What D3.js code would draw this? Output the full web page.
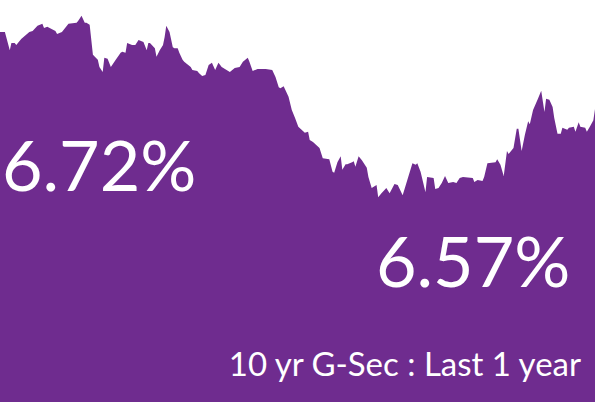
<!DOCTYPE html>
<html><head><meta charset="utf-8">
<script src="https://cdn.jsdelivr.net/npm/d3@7"></script>
<style>html,body{margin:0;padding:0;background:#fff;}svg{display:block;}</style>
</head><body>
<svg id="chart" width="601" height="410"></svg>
<script>
// Day offsets within the last year (0 = one year ago)
const days = [0,3,6,7,9,10,13,18,20,23,26,27,29,34,35,38,42,47,48,50,52,53,55,57,60,61,63,64,66,68,71,74,75,77,78,81,83,85,88,90,91,92,95,96,98,100,101,102,104,106,107,109,110,112,113,117,118,121,122,124,126,128,130,132,134,136,139,141,144,147,149,152,153,155,158,163,167,169,171,172,174,177,179,181,183,185,187,189,190,192,194,196,198,202,204,205,207,209,210,212,213,216,217,218,220,222,225,226,228,229,231,232,234,237,239,242,244,247,248,253,255,256,258,261,262,266,267,269,271,273,275,278,280,282,284,290,291,293,296,297,299,304,305,307,309,311,312,315,317,318,320,322,324,325,327,330,332,334,335,337,339,340,342,344,345,348,349,352,353,355,356,359,360,362,364,365];
// 10 yr G-Sec yield (%)
const yields = [6.720,6.720,6.684,6.698,6.698,6.694,6.706,6.720,6.722,6.732,6.736,6.728,6.730,6.722,6.716,6.720,6.736,6.738,6.742,6.752,6.738,6.738,6.734,6.675,6.665,6.651,6.641,6.669,6.667,6.651,6.665,6.679,6.681,6.679,6.698,6.694,6.694,6.704,6.700,6.684,6.698,6.698,6.688,6.671,6.684,6.694,6.710,6.732,6.720,6.690,6.688,6.688,6.679,6.665,6.661,6.651,6.645,6.643,6.639,6.633,6.635,6.655,6.659,6.645,6.659,6.651,6.645,6.641,6.649,6.651,6.661,6.669,6.661,6.643,6.647,6.647,6.645,6.631,6.611,6.609,6.613,6.592,6.566,6.550,6.533,6.527,6.521,6.523,6.507,6.503,6.497,6.491,6.471,6.469,6.444,6.442,6.463,6.475,6.448,6.459,6.459,6.463,6.465,6.454,6.475,6.467,6.452,6.434,6.412,6.414,6.418,6.394,6.402,6.412,6.402,6.420,6.418,6.398,6.408,6.461,6.458,6.461,6.444,6.404,6.434,6.432,6.410,6.412,6.422,6.436,6.422,6.424,6.422,6.432,6.434,6.432,6.424,6.428,6.426,6.434,6.461,6.463,6.469,6.458,6.436,6.485,6.479,6.491,6.529,6.529,6.485,6.517,6.544,6.538,6.566,6.588,6.604,6.562,6.588,6.586,6.572,6.550,6.519,6.519,6.531,6.527,6.531,6.533,6.523,6.542,6.533,6.531,6.523,6.534,6.546,6.568];
const firstLabel = "6.72%";
const lastLabel = "6.57%";
const caption = "10 yr G-Sec : Last 1 year";

const data = days.map((d,i)=>({day:d, v:yields[i]}));
const svg = d3.select("#chart");
const x = d3.scaleLinear().domain([0,365]).range([0,595]);
const y = d3.scaleLinear().domain([5.99,6.783]).range([402,0]);

const area = d3.area().x(d=>x(d.day)).y0(y(5.99)).y1(d=>y(d.v));
svg.append("path").datum(data).attr("d",area).attr("fill","#6f2c8f");

const font = "Lato, 'Open Sans', sans-serif";
svg.append("text").attr("x",2).attr("y",191).attr("fill","#fff")
  .attr("font-family",font).attr("font-size",70).text(firstLabel);
svg.append("text").attr("x",376).attr("y",287).attr("fill","#fff")
  .attr("font-family",font).attr("font-size",70).text(lastLabel);
svg.append("text").attr("x",581).attr("y",376).attr("text-anchor","end").attr("fill","#fff")
  .attr("font-family",font).attr("font-size",33).text(caption);
</script>
</body></html>
